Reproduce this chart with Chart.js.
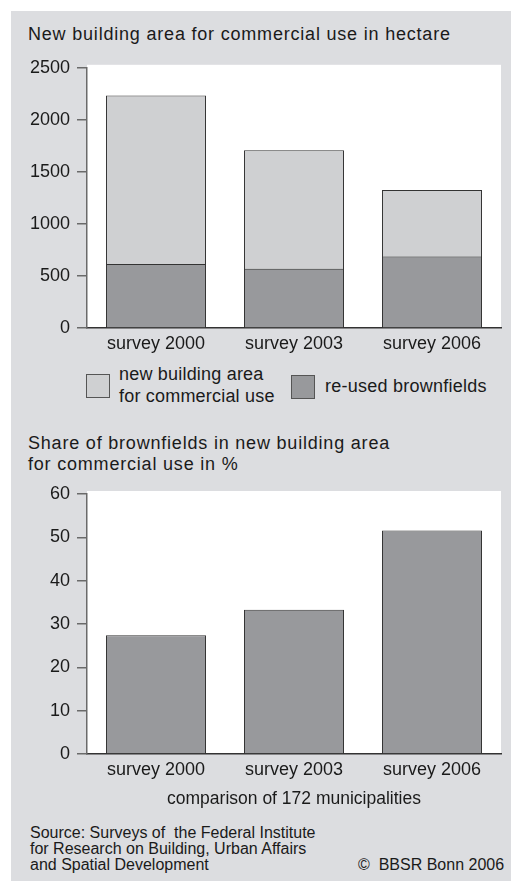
<!DOCTYPE html>
<html lang="en">
<head>
  <meta charset="UTF-8">
  <title>Brownfields in new commercial building area</title>
  <script src="https://cdn.jsdelivr.net/npm/chart.js"></script>
  <style>
    body {
      margin: 0;
      background: #fff;
      font-family: "Liberation Sans", Arial, sans-serif;
      color: #1a1a1a;
    }
    #panel {
      position: absolute;
      left: 11px;
      top: 11px;
      width: 500px;
      height: 870px;
      background: #dcdde0;
    }
    .txt {
      position: absolute;
      white-space: nowrap;
      font-size: 18px;
      line-height: 21px;
    }
    .head {
      letter-spacing: 0.8px;
    }
    .box {
      position: absolute;
      width: 22px;
      height: 22px;
      border: 1px solid #555;
    }
    canvas {
      position: absolute;
    }
  </style>
</head>
<body>
  <div id="panel"></div>

  <div class="txt head" style="left:28px; top:24px;">New building area for commercial use in hectare</div>

  <div id="c1wrap" style="position:absolute; left:11px; top:50px; width:500px; height:310px;">
    <canvas id="areaChart"></canvas>
  </div>

  <div class="box" style="left:86px; top:374px; background:#cfd0d2;"></div>
  <div class="txt" style="left:119px; top:363px; line-height:22px; letter-spacing:0.2px;">new building area<br>for commercial use</div>
  <div class="box" style="left:291px; top:375px; background:#98999c;"></div>
  <div class="txt" style="left:325px; top:376px; letter-spacing:0.25px;">re-used brownfields</div>

  <div class="txt head" style="left:28px; top:433px;">Share of brownfields in new building area<br>for commercial use in %</div>

  <div id="c2wrap" style="position:absolute; left:11px; top:470px; width:500px; height:340px;">
    <canvas id="shareChart"></canvas>
  </div>

  <div class="txt" style="left:30px; top:825px; font-size:16px; line-height:16px;">Source: Surveys of&nbsp; the Federal Institute<br>for Research on Building, Urban Affairs<br>and Spatial Development</div>
  <div class="txt" style="left:358px; top:857px; font-size:16px; line-height:16px;">©&nbsp; BBSR Bonn 2006</div>

  <script>
    const surveys = ['survey 2000', 'survey 2003', 'survey 2006'];
    const newBuildingArea = [2233, 1708, 1326];   // total, hectare
    const reusedBrownfields = [614, 570, 687];    // hectare
    const brownfieldShare = [27.4, 33.3, 51.6];   // percent

    const FONT = "'Liberation Sans', Arial, sans-serif";
    const AXIS = '#6a6a6a';

    // white plot background, a little taller than the axis like the original
    const plotBg = {
      id: 'plotBg',
      beforeDraw(chart) {
        const a = chart.chartArea;
        const ctx = chart.ctx;
        ctx.save();
        ctx.fillStyle = '#ffffff';
        ctx.fillRect(a.left, a.top - 3, a.right - a.left, a.bottom - a.top + 3);
        ctx.restore();
      }
    };

    function yAxis(max, step) {
      return {
        min: 0,
        max: max,
        ticks: {
          stepSize: step,
          color: '#1a1a1a',
          padding: 7,
          font: { family: FONT, size: 18 },
          callback: v => String(v)
        },
        grid: { drawOnChartArea: false, drawTicks: true, tickLength: 10, color: AXIS, lineWidth: 1.5 },
        border: { display: true, color: AXIS, width: 1.5 },
        afterFit(s) { s.width = 76; }
      };
    }

    function xAxis(height, extra) {
      return Object.assign({
        ticks: { color: '#1a1a1a', padding: 5, font: { family: FONT, size: 18 } },
        grid: { display: true, drawOnChartArea: false, drawTicks: false, color: AXIS },
        border: { display: true, color: '#333', width: 1.5 },
        afterFit(s) { s.height = height; }
      }, extra);
    }

    Chart.defaults.animation = false;
    Chart.defaults.font.family = FONT;

    new Chart(document.getElementById('areaChart'), {
      type: 'bar',
      data: {
        labels: surveys,
        datasets: [
          {
            label: 'new building area for commercial use',
            data: newBuildingArea,
            backgroundColor: '#cfd0d2',
            borderColor: '#333',
            borderWidth: 1,
            order: 2
          },
          {
            label: 're-used brownfields',
            data: reusedBrownfields,
            backgroundColor: '#98999c',
            borderColor: '#333',
            borderWidth: 1,
            order: 1
          }
        ]
      },
      options: {
        responsive: true,
        maintainAspectRatio: false,
        layout: { padding: { top: 16, right: 10, left: 0, bottom: 0 } },
        datasets: { bar: { categoryPercentage: 1, barPercentage: 0.725 } },
        plugins: { legend: { display: false }, tooltip: { enabled: false } },
        scales: {
          x: xAxis(32, { stacked: true }),
          y: yAxis(2500, 500)
        }
      },
      plugins: [plotBg]
    });

    new Chart(document.getElementById('shareChart'), {
      type: 'bar',
      data: {
        labels: surveys,
        datasets: [
          {
            label: 'share of brownfields in %',
            data: brownfieldShare,
            backgroundColor: '#98999c',
            borderColor: '#333',
            borderWidth: 1
          }
        ]
      },
      options: {
        responsive: true,
        maintainAspectRatio: false,
        layout: { padding: { top: 24, right: 10, left: 0, bottom: 0 } },
        datasets: { bar: { categoryPercentage: 1, barPercentage: 0.725 } },
        plugins: { legend: { display: false }, tooltip: { enabled: false } },
        scales: {
          x: xAxis(56, {
            title: {
              display: true,
              text: 'comparison of 172 municipalities',
              color: '#1a1a1a',
              font: { family: FONT, size: 17.5 },
              padding: { top: 2, bottom: 0 }
            }
          }),
          y: yAxis(60, 10)
        }
      },
      plugins: [plotBg]
    });
  </script>
</body>
</html>
